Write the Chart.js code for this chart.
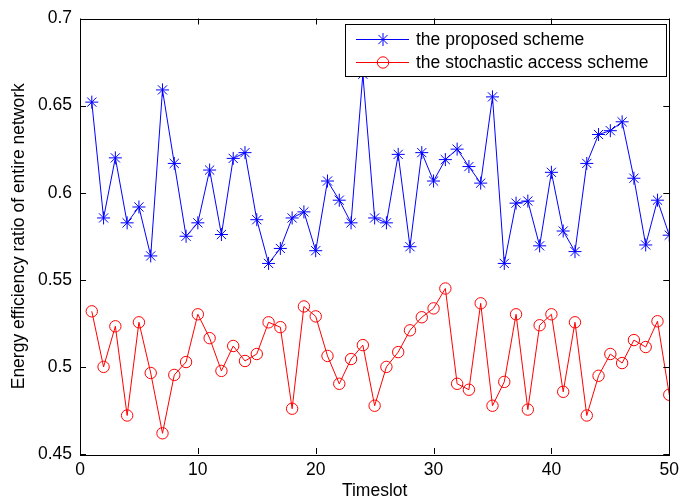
<!DOCTYPE html>
<html>
<head>
<meta charset="utf-8">
<title>Energy efficiency ratio</title>
<script src="https://cdn.jsdelivr.net/npm/chart.js@4.4.0/dist/chart.umd.min.js"></script>
<style>
    html, body { margin: 0; padding: 0; background: #fff; }
    canvas { display: block; }
</style>
</head>
<body>
<canvas id="chart" width="685" height="502"></canvas>
<script>
(function () {
    'use strict';

    const timeslots = [1, 2, 3, 4, 5, 6, 7, 8, 9, 10, 11, 12, 13, 14, 15, 16, 17, 18, 19, 20,
        21, 22, 23, 24, 25, 26, 27, 28, 29, 30, 31, 32, 33, 34, 35, 36, 37, 38, 39, 40,
        41, 42, 43, 44, 45, 46, 47, 48, 49, 50];

    const proposed = [0.652, 0.5855, 0.620, 0.5827, 0.5918, 0.5637, 0.659, 0.6168, 0.575, 0.5827,
        0.613, 0.576, 0.6197, 0.623, 0.5845, 0.5594, 0.568, 0.5855, 0.589, 0.5667,
        0.6067, 0.5957, 0.5827, 0.668, 0.5855, 0.5827, 0.622, 0.569, 0.623, 0.6067,
        0.619, 0.625, 0.615, 0.6055, 0.655, 0.5594, 0.594, 0.5952, 0.5695, 0.6117,
        0.578, 0.5662, 0.6168, 0.6334, 0.6356, 0.6407, 0.6083, 0.570, 0.5957, 0.5756];

    const stochastic = [0.5319, 0.500, 0.5233, 0.4721, 0.5256, 0.4965, 0.4619, 0.4954, 0.5028, 0.5302,
        0.5165, 0.4977, 0.512, 0.5034, 0.5074, 0.5256, 0.5228, 0.476, 0.5347, 0.529,
        0.5063, 0.4903, 0.5045, 0.5125, 0.4777, 0.500, 0.5085, 0.521, 0.5285, 0.5336,
        0.545, 0.4903, 0.4869, 0.5365, 0.4777, 0.4914, 0.5302, 0.4755, 0.5239, 0.5302,
        0.4857, 0.5256, 0.4721, 0.4949, 0.5074, 0.5022, 0.5154, 0.5114, 0.5262, 0.484];

    const xTicks = [0, 10, 20, 30, 40, 50];
    const yTicks = [0.45, 0.5, 0.55, 0.6, 0.65, 0.7];
    const seriesNames = ['the proposed scheme', 'the stochastic access scheme'];

    const FONT = { family: '"Liberation Sans", Arial, Helvetica, sans-serif', size: 17.5 };
    const pts = (ys) => timeslots.map((t, i) => ({ x: t, y: ys[i] }));

    // MATLAB style box, inward ticks on all four sides, legend inside the axes
    const matlabBox = {
        id: 'matlabBox',
        afterDatasetsDraw(chart) {
            const { ctx, chartArea: a, scales: { x, y } } = chart;
            const len = 6;
            ctx.save();
            ctx.strokeStyle = '#000';
            ctx.lineWidth = 1;
            ctx.beginPath();
            xTicks.forEach(v => {
                const px = Math.round(x.getPixelForValue(v)) + 0.5;
                ctx.moveTo(px, a.bottom); ctx.lineTo(px, a.bottom - len);
                ctx.moveTo(px, a.top); ctx.lineTo(px, a.top + len);
            });
            yTicks.forEach(v => {
                const py = Math.round(y.getPixelForValue(v)) + 0.5;
                ctx.moveTo(a.left, py); ctx.lineTo(a.left + len, py);
                ctx.moveTo(a.right, py); ctx.lineTo(a.right - len, py);
            });
            ctx.stroke();
            ctx.strokeRect(Math.round(a.left) + 0.5, Math.round(a.top) + 0.5,
                Math.round(a.right - a.left), Math.round(a.bottom - a.top));

            // legend
            const lx = 345, ly = 24.5, lw = 321, lh = 52;
            ctx.fillStyle = '#fff';
            ctx.fillRect(lx, ly, lw, lh);
            ctx.strokeRect(lx + 0.5, ly, lw, lh);
            ctx.font = FONT.size + 'px ' + FONT.family;
            ctx.textBaseline = 'middle';
            chart.data.datasets.forEach((ds, i) => {
                const rowY = 39.5 + i * 23;
                ctx.strokeStyle = ds.borderColor;
                ctx.lineWidth = 1;
                ctx.beginPath();
                ctx.moveTo(356, rowY); ctx.lineTo(409, rowY);
                ctx.stroke();
                ctx.fillStyle = 'rgba(0,0,0,0)';
                Chart.helpers.drawPoint(ctx, {
                    pointStyle: ds.pointStyle, radius: ds.pointRadius, borderWidth: 1
                }, 383, rowY);
                ctx.fillStyle = '#000';
                ctx.fillText(seriesNames[i], 416, rowY + 1);
            });
            ctx.restore();
        }
    };

    new Chart(document.getElementById('chart'), {
        type: 'line',
        data: {
            datasets: [
                {
                    label: seriesNames[0], data: pts(proposed),
                    borderColor: '#0000ff', backgroundColor: 'rgba(0,0,0,0)',
                    borderWidth: 1, pointStyle: 'star', pointRadius: 6.5,
                    pointBorderColor: '#0000ff', pointBorderWidth: 1, tension: 0,
                },
                {
                    label: seriesNames[1], data: pts(stochastic),
                    borderColor: '#ff0000', backgroundColor: 'rgba(0,0,0,0)',
                    borderWidth: 1, pointStyle: 'circle', pointRadius: 5.7,
                    pointBorderColor: '#ff0000', pointBackgroundColor: 'rgba(0,0,0,0)',
                    pointBorderWidth: 1, tension: 0,
                },
            ],
        },
        options: {
            responsive: false,
            animation: false,
            devicePixelRatio: 1,
            layout: { padding: { left: 0, right: 11, top: 15, bottom: 0 } },
            plugins: { legend: { display: false }, tooltip: { enabled: false } },
            scales: {
                x: {
                    type: 'linear', min: 0, max: 50,
                    afterFit: (s) => { s.height = 48; },
                    afterBuildTicks: (s) => { s.ticks = xTicks.map(v => ({ value: v })); },
                    grid: { display: false, drawTicks: false },
                    border: { display: false },
                    ticks: { font: FONT, color: '#000', padding: 6, maxRotation: 0, autoSkip: false },
                    title: { display: true, text: 'Timeslot', font: FONT, color: '#000', padding: { top: 0, bottom: 0 } },
                },
                y: {
                    min: 0.45, max: 0.7,
                    afterFit: (s) => { s.width = 80; },
                    afterBuildTicks: (s) => { s.ticks = yTicks.map(v => ({ value: v })); },
                    grid: { display: false, drawTicks: false },
                    border: { display: false },
                    ticks: { font: FONT, color: '#000', padding: 8, autoSkip: false, callback: (v) => String(+v.toFixed(2)) },
                    title: { display: true, text: 'Energy efficiency ratio of entire network', font: FONT, color: '#000', padding: { top: 9, bottom: 0 } },
                },
            },
        },
        plugins: [matlabBox],
    });
})();
</script>
</body>
</html>
